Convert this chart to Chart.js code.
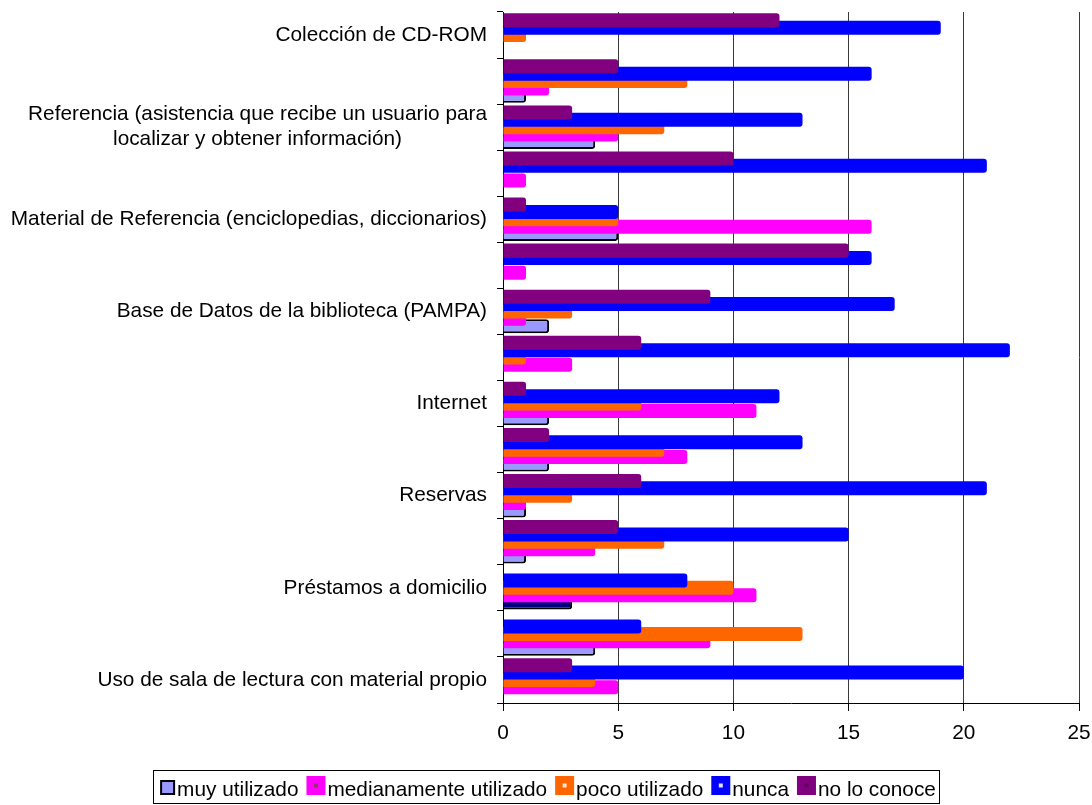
<!DOCTYPE html>
<html>
<head>
<meta charset="utf-8">
<script src="https://cdn.jsdelivr.net/npm/chart.js@4.4.1/dist/chart.umd.min.js"></script>
<style>
  html, body { margin: 0; padding: 0; background: #ffffff; }
  #wrap { width: 1092px; height: 805px; }
</style>
</head>
<body>
<div id="wrap"><canvas id="chart" width="1092" height="805"></canvas></div>
<script>
// Services, listed top to bottom (unnamed rows keep an empty label)
const categories = [
  "Colección de CD-ROM",
  "",
  ["Referencia (asistencia que recibe un usuario para", "localizar y obtener información)"],
  "",
  "Material de Referencia (enciclopedias, diccionarios)",
  "",
  "Base de Datos de la biblioteca (PAMPA)",
  "",
  "Internet",
  "",
  "Reservas",
  "",
  "Préstamos a domicilio",
  "",
  "Uso de sala de lectura con material propio"
];

const seriesNames = ["muy utilizado", "medianamente utilizado", "poco utilizado", "nunca", "no lo conoce"];

const muyUtilizado  = [0, 1, 4, 0, 5, 0, 2, 0, 2, 2, 1, 1, 3, 4, 0];
const medianamente  = [0, 2, 5, 1, 16, 1, 1, 3, 11, 8, 1, 4, 11, 9, 5];
const pocoUtilizado = [1, 8, 7, 0, 5, 0, 3, 1, 6, 7, 3, 7, 10, 13, 4];
const nunca         = [19, 16, 13, 21, 5, 16, 17, 22, 12, 13, 21, 15, 8, 6, 20];
const noLoConoce    = [12, 5, 3, 10, 1, 15, 9, 6, 1, 2, 6, 5, 0, 0, 3];

const xTickValues = [0, 5, 10, 15, 20, 25];

const FONT_FAMILY = "'Liberation Sans', Arial, Helvetica, sans-serif";
const FONT_SIZE = 20.8;

Chart.defaults.font.family = FONT_FAMILY;
Chart.defaults.font.size = FONT_SIZE;
Chart.defaults.color = "#000000";

// Series styles (fill, legend swatch mark)
const styles = {
  "muy utilizado":          { fill: "#9999FF", border: "#000000", borderWidth: 2, mark: null },
  "medianamente utilizado": { fill: "#FF00FF", border: "#FF00FF", borderWidth: 0, mark: "#993366" },
  "poco utilizado":         { fill: "#FF6600", border: "#FF6600", borderWidth: 0, mark: "#FFE6CC" },
  "nunca":                  { fill: "#0000FF", border: "#0000FF", borderWidth: 0, mark: "#E0E0FF" },
  "no lo conoce":           { fill: "#800080", border: "#800080", borderWidth: 0, mark: "#5A0060" }
};

// Row drawn in a darker shade for "muy utilizado"
const darkRow = 12;

const seriesData = {
  "muy utilizado": muyUtilizado,
  "medianamente utilizado": medianamente,
  "poco utilizado": pocoUtilizado,
  "nunca": nunca,
  "no lo conoce": noLoConoce
};

// Inside each group the last series sits on top, so datasets go in reverse
const drawOrder = seriesNames.slice().reverse();
const datasets = drawOrder.map(name => {
  const s = styles[name];
  return {
    label: name,
    data: seriesData[name],
    backgroundColor: name === "muy utilizado"
      ? (ctx => ctx.dataIndex === darkRow ? "#000080" : s.fill)
      : s.fill,
    borderColor: s.border,
    borderWidth: s.borderWidth,
    borderSkipped: "start",
    borderRadius: 3,
    categoryPercentage: 0.8,
    barPercentage: 1.9
  };
});

// Category names drawn beside the y axis, multi-line names centred on their widest line
const categoryLabelsPlugin = {
  id: "categoryLabels",
  afterDraw(chart) {
    const scale = chart.scales.y;
    const ctx = chart.ctx;
    const rightEdge = scale.right - 6 - 10;
    const lineGap = 25;
    ctx.save();
    ctx.font = FONT_SIZE + "px " + FONT_FAMILY;
    ctx.fillStyle = "#000000";
    ctx.textBaseline = "middle";
    ctx.textAlign = "center";
    categories.forEach((label, i) => {
      const lines = Array.isArray(label) ? label : [label];
      if (!lines.join("")) return;
      const maxW = Math.max(...lines.map(l => ctx.measureText(l).width));
      const cx = rightEdge - maxW / 2;
      const cy = scale.getPixelForValue(i);
      const y0 = cy - (lines.length - 1) * lineGap / 2;
      lines.forEach((l, k) => ctx.fillText(l, cx, y0 + k * lineGap));
    });
    ctx.restore();
  }
};

// Boxed legend under the chart
const boxedLegendPlugin = {
  id: "boxedLegend",
  afterDraw(chart) {
    const ctx = chart.ctx;
    ctx.save();
    ctx.font = FONT_SIZE + "px " + FONT_FAMILY;
    const sw = 19, gapText = 2, gapItem = 8;
    const widths = seriesNames.map(n => ctx.measureText(n).width);
    const total = widths.reduce((a, w) => a + sw + gapText + w, 0) + gapItem * (seriesNames.length - 1);
    let x = chart.width / 2 - total / 2;
    const boxTop = chart.height - 35;
    const boxBottom = chart.height - 2;
    const swBottom = boxTop + 25;

    ctx.strokeStyle = "#000000";
    ctx.lineWidth = 1;
    ctx.strokeRect(Math.round(x - 3) + 0.5, boxTop + 0.5, Math.round(total + 6), boxBottom - boxTop);

    seriesNames.forEach((name, i) => {
      const s = styles[name];
      if (s.mark === null) {
        // bordered swatch
        ctx.fillStyle = "#000000";
        ctx.fillRect(x + 4, swBottom - 15, 15, 15);
        ctx.fillStyle = s.fill;
        ctx.fillRect(x + 6, swBottom - 13, 11, 11);
      } else {
        ctx.fillStyle = s.fill;
        ctx.fillRect(x, swBottom - sw, sw, sw);
        ctx.fillStyle = s.mark;
        ctx.fillRect(x + sw / 2 - 2, swBottom - sw / 2 - 2, 4, 4);
      }
      ctx.fillStyle = "#000000";
      ctx.textAlign = "left";
      ctx.textBaseline = "alphabetic";
      ctx.fillText(name, x + sw + gapText, swBottom + 1);
      x += sw + gapText + widths[i] + gapItem;
    });
    ctx.restore();
  }
};

new Chart(document.getElementById("chart"), {
  type: "bar",
  data: { labels: categories, datasets: datasets },
  plugins: [categoryLabelsPlugin, boxedLegendPlugin],
  options: {
    indexAxis: "y",
    responsive: false,
    devicePixelRatio: 1,
    animation: false,
    layout: { padding: { top: 12, right: 13, bottom: 52, left: 0 } },
    plugins: {
      legend: { display: false },
      tooltip: { enabled: false }
    },
    scales: {
      x: {
        type: "linear",
        min: 0,
        max: 25,
        afterBuildTicks: scale => { scale.ticks = xTickValues.map(v => ({ value: v })); },
        afterFit: scale => {
          scale.height = 50;
          scale.paddingLeft = 0;
          scale.paddingRight = 0;
        },
        ticks: { padding: 10, color: "#000000", font: { size: FONT_SIZE } },
        grid: {
          color: "#3a3a3a",
          lineWidth: 1,
          tickLength: 8,
          tickColor: "#000000"
        },
        border: { color: "#000000", width: 1 }
      },
      y: {
        type: "category",
        offset: true,
        afterFit: scale => { scale.width = 503; },
        ticks: { display: false },
        grid: {
          offset: true,
          drawOnChartArea: false,
          tickLength: 6,
          color: "#000000"
        },
        border: { color: "#000000", width: 1 }
      }
    }
  }
});
</script>
</body>
</html>
